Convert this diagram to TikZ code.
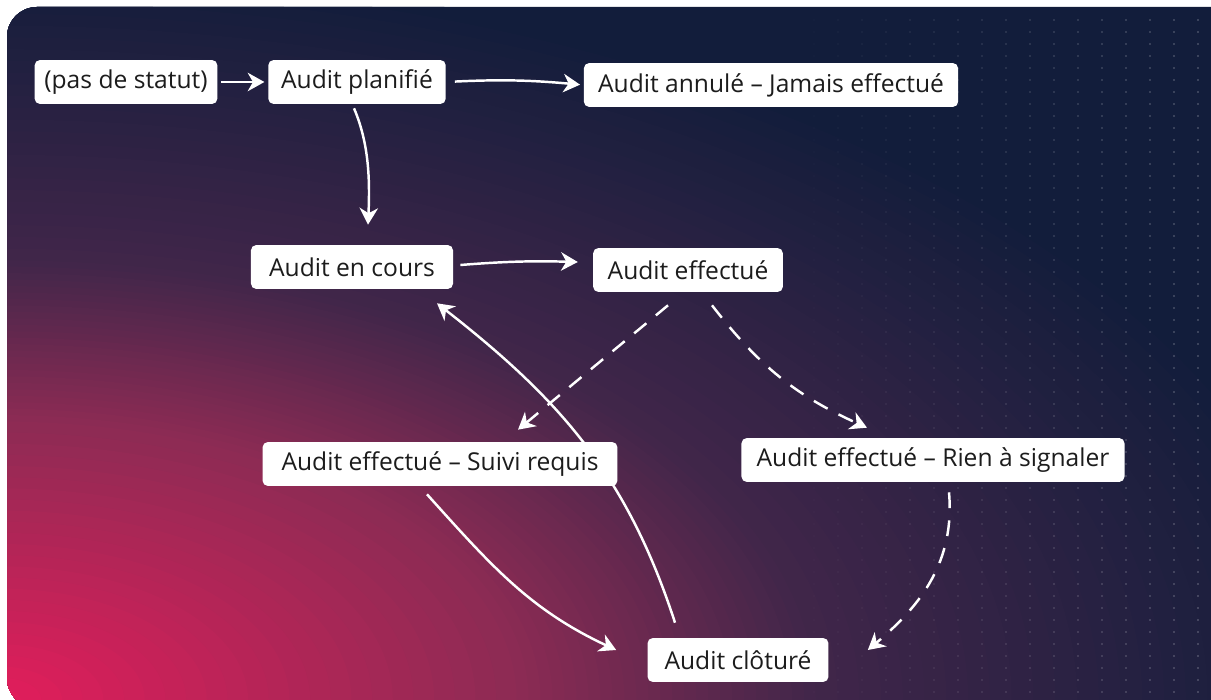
\documentclass[tikz,border=0pt]{standalone}
\usepackage{fontspec}
\setmainfont{Open Sans}
\usetikzlibrary{arrows.meta,backgrounds}
\definecolor{bgnavy}{HTML}{121D3B}
\definecolor{bgplum}{HTML}{42264A}
\definecolor{bgwine}{HTML}{8E2B54}
\definecolor{bgpink}{HTML}{E41D5B}
\definecolor{labelink}{HTML}{1C1C1C}

\begin{document}
\begin{tikzpicture}[x=0.02cm,y=0.02cm,
  statebox/.style={fill=white,rounded corners=3pt,minimum height=25pt,inner sep=0pt,text=labelink,font=\fontsize{14}{16}\selectfont},
  flow/.style={draw=white,line width=1.4pt,-{Stealth[length=9.5pt,width=10.5pt,inset=3pt]}},
  maybe/.style={flow,dash pattern=on 9pt off 7pt}]
\useasboundingbox (0,0) rectangle (1211,700);

\node[statebox,minimum width=104pt] (nostat) at (126,618) {(pas de statut)};
\node[statebox,minimum width=101pt] (planned) at (357,618) {Audit planifié};
\node[statebox,minimum width=213pt] (cancelled) at (771,615) {Audit annulé -- Jamais effectué};
\node[statebox,minimum width=115pt] (ongoing) at (352,433) {Audit en cours};
\node[statebox,minimum width=108pt] (done) at (688,430) {Audit effectué};
\node[statebox,minimum width=202pt] (followup) at (440,236) {Audit effectué -- Suivi requis};
\node[statebox,minimum width=218pt] (nothing) at (933,240) {Audit effectué -- Rien à signaler};
\node[statebox,minimum width=103pt] (closed) at (738,40) {Audit clôturé};

\begin{scope}[on background layer]
\begin{scope}
\clip[rounded corners=17pt] (7,-8) rectangle (1260,693);
\fill[bgnavy] (0,-10) rectangle (1260,700);
\foreach \k [evaluate=\k as \r using 1-0.016*\k, evaluate=\k as \m using int(100-4*\k)] in {0,...,25}
  \fill[bgnavy!\m!bgplum] (0,0) ellipse [x radius=1360*\r, y radius=733*\r];
\foreach \k [evaluate=\k as \r using 0.6-0.0088*\k, evaluate=\k as \m using int(100-4*\k)] in {1,...,25}
  \fill[bgplum!\m!bgwine] (0,0) ellipse [x radius=1360*\r, y radius=733*\r];
\foreach \k [evaluate=\k as \r using 0.38-0.0152*\k, evaluate=\k as \m using int(100-4*\k)] in {1,...,24}
  \fill[bgwine!\m!bgpink] (0,0) ellipse [x radius=1360*\r, y radius=733*\r];
\foreach \x [evaluate={\o=min(0.35,max(0,(\x-780)/1200))}] in {790,814,...,1210}
  \foreach \y in {8,20,...,690}
    \fill[white,opacity=\o] (\x,\y) circle [radius=0.9];
\end{scope}

\draw[flow,shorten <=2pt,shorten >=2pt] (nostat) -- (planned);
\draw[flow,shorten <=5pt,shorten >=2pt] (planned.east) to[bend left=4] (cancelled.west);
\draw[flow] ([shift={(-3,-4)}]planned.south) .. controls +(15,-35) and +(2,45) .. ([shift={(16,20)}]ongoing.north);
\draw[flow] ([shift={(7,2)}]ongoing.east) to[bend left=3] ([shift={(-15,8)}]done.west);
\draw[maybe] ([shift={(-20,-13)}]done.south) -- ([shift={(78,12)}]followup.north);
\draw[maybe] ([shift={(24,-13)}]done.south) to[bend right=14] ([shift={(-66,10)}]nothing.north);
\draw[flow] ([shift={(-13,-8)}]followup.south) to[out=-48,in=155] ([shift={(-31,10)}]closed.west);
\draw[flow] ([shift={(-63,15)}]closed.north) to[out=108,in=-38] ([shift={(85,-14)}]ongoing.south);
\draw[maybe] ([shift={(16,-10)}]nothing.south) to[out=-85,in=40] ([shift={(39,10)}]closed.east);
\end{scope}
\end{tikzpicture}
\end{document}
